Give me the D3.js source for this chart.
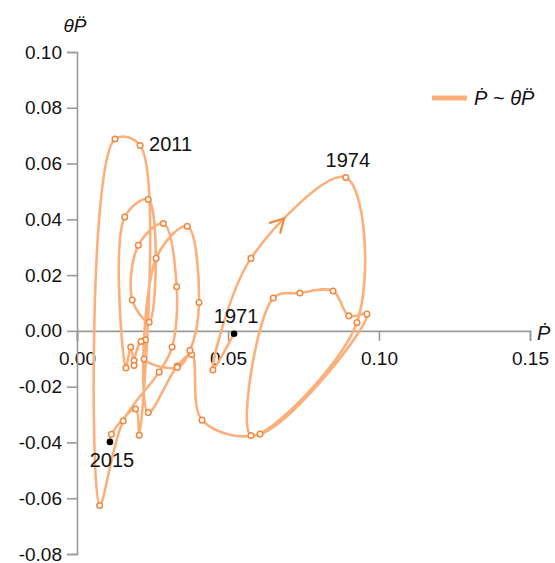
<!DOCTYPE html>
<html>
<head>
<meta charset="utf-8">
<script src="https://cdnjs.cloudflare.com/ajax/libs/d3/7.8.5/d3.min.js"></script>
<style>
  body { margin: 0; background: #fff; }
  svg text { font-family: "Liberation Sans", Arial, sans-serif; fill: #111; }
  .axis path, .axis line { stroke: #9a9a9a; stroke-width: 1.6; }
  .axis text { font-size: 19px; }
</style>
</head>
<body>
<div id="chart"></div>
<script>
// one point per year, Pdot on x, theta*Pddot on y
const years = [1971, 1972, 1973, 1974, 1975, 1976, 1977, 1978, 1979, 1980,
  1981, 1982, 1983, 1984, 1985, 1986, 1987, 1988, 1989, 1990,
  1991, 1992, 1993, 1994, 1995, 1996, 1997, 1998, 1999, 2000,
  2001, 2002, 2003, 2004, 2005, 2006, 2007, 2008, 2009, 2010,
  2011, 2012, 2013, 2014, 2015];

const pDot = [0.052, 0.045, 0.0576, 0.089, 0.0927, 0.0576, 0.065, 0.0738, 0.0848, 0.090,
  0.096, 0.0606, 0.0414, 0.0380, 0.0332, 0.0236, 0.0262, 0.0365, 0.0404, 0.0374,
  0.0332, 0.0222, 0.0227, 0.0212, 0.0189, 0.0189, 0.0178, 0.0162, 0.0158, 0.0236,
  0.0239, 0.0183, 0.0203, 0.0286, 0.0330, 0.0315, 0.0272, 0.0153, 0.0075, 0.0126,
  0.0209, 0.0206, 0.0194, 0.0114, 0.0109];

const thetaPDDot = [-0.001, -0.014, 0.026, 0.055, 0.003, -0.0375, 0.0118, 0.0136, 0.0143, 0.0054,
  0.006, -0.037, -0.032, -0.0085, -0.0126, -0.0293, 0.026, 0.0375, 0.0102, -0.0070,
  -0.0131, -0.0101, -0.0032, -0.0038, -0.0106, -0.0124, -0.0058, -0.0133, 0.0408, 0.0471,
  0.0031, 0.0111, 0.0307, 0.0385, 0.0158, -0.0058, -0.0148, -0.0323, -0.0626, 0.0688,
  0.0665, -0.0374, -0.028, -0.0371, -0.0398];

const xTicks = [0, 0.05, 0.10, 0.15];
const yTicks = [-0.08, -0.06, -0.04, -0.02, 0, 0.02, 0.04, 0.06, 0.08, 0.10];
const labelledYears = [1971, 1974, 2011, 2015];
const arrowAt = 0.0685;   // Pdot where the direction arrow sits

const width = 555, height = 563;
const lineColor = '#fbb07b', markColor = '#f0883f';

const rows = years.map((yr, i) => ({ year: yr, p: pDot[i], t: thetaPDDot[i] }));

const x = d3.scaleLinear().domain([0, 0.15]).range([77, 530]);
const y = d3.scaleLinear().domain([-0.08, 0.10]).range([554, 52]);

const svg = d3.select('#chart').append('svg')
  .attr('width', width)
  .attr('height', height);

// axes cross at the origin
svg.append('g')
  .attr('class', 'axis x')
  .attr('transform', 'translate(0,' + y(0) + ')')
  .call(d3.axisBottom(x).tickValues(xTicks).tickSize(10).tickPadding(11)
    .tickFormat(d => d.toFixed(2)));

svg.append('g')
  .attr('class', 'axis y')
  .attr('transform', 'translate(' + x(0) + ',0)')
  .call(d3.axisLeft(y).tickValues(yTicks).tickSize(10).tickPadding(5)
    .tickFormat(d => d.toFixed(2)));

// axis titles
svg.append('text')
  .attr('x', 75).attr('y', 32)
  .attr('text-anchor', 'middle')
  .style('font-size', '19px').style('font-style', 'italic')
  .text('\u03B8P\u0308');

svg.append('text')
  .attr('x', 537).attr('y', 340)
  .style('font-size', '20px').style('font-style', 'italic')
  .text('\u1E56');

// the trajectory
const curve = d3.line()
  .x(d => x(d.p))
  .y(d => y(d.t))
  .curve(d3.curveCatmullRom.alpha(0.5));

svg.append('path')
  .attr('d', curve(rows))
  .attr('fill', 'none')
  .attr('stroke', lineColor)
  .attr('stroke-width', 2.6)
  .attr('stroke-linejoin', 'round');

// direction arrow on the 1973-1974 stretch
const guide = svg.append('path')
  .attr('d', curve(rows.slice(1, 5)))
  .attr('fill', 'none').attr('stroke', 'none');
const gNode = guide.node();
const total = gNode.getTotalLength();
let at = 0;
while (at < total && gNode.getPointAtLength(at).x < x(arrowAt)) at += 0.5;
const tip = gNode.getPointAtLength(at);
const back = gNode.getPointAtLength(Math.max(0, at - 2));
const ang = Math.atan2(tip.y - back.y, tip.x - back.x);
const arm = 15, spread = 0.5;
const a1 = [tip.x - arm * Math.cos(ang - spread), tip.y - arm * Math.sin(ang - spread)];
const a2 = [tip.x - arm * Math.cos(ang + spread), tip.y - arm * Math.sin(ang + spread)];
svg.append('path')
  .attr('d', 'M' + a1 + 'L' + [tip.x, tip.y] + 'L' + a2)
  .attr('fill', 'none')
  .attr('stroke', markColor)
  .attr('stroke-width', 2.2)
  .attr('stroke-linecap', 'round');
guide.remove();

// yearly markers, first and last year in black
svg.selectAll('circle.yr')
  .data(rows.slice(1, -1))
  .enter().append('circle')
  .attr('class', 'yr')
  .attr('cx', d => x(d.p))
  .attr('cy', d => y(d.t))
  .attr('r', 2.8)
  .attr('fill', '#fff')
  .attr('stroke', markColor)
  .attr('stroke-width', 1.5);

svg.selectAll('circle.end')
  .data([rows[0], rows[rows.length - 1]])
  .enter().append('circle')
  .attr('class', 'end')
  .attr('cx', d => x(d.p))
  .attr('cy', d => y(d.t))
  .attr('r', 3.3)
  .attr('fill', '#000');

// year labels
svg.selectAll('text.yr')
  .data(rows.filter(d => labelledYears.includes(d.year)))
  .enter().append('text')
  .attr('class', 'yr')
  .style('font-size', '20px')
  .attr('x', d => x(d.p) + (d.year === 2011 ? 9 : 2))
  .attr('y', d => y(d.t) + (d.year === 2011 ? 6 : d.year === 2015 ? 25 : -11))
  .attr('text-anchor', d => d.year === 2011 ? 'start' : 'middle')
  .text(d => d.year);

// legend
svg.append('line')
  .attr('x1', 432).attr('x2', 467)
  .attr('y1', 98).attr('y2', 98)
  .attr('stroke', lineColor)
  .attr('stroke-width', 5);

const leg = svg.append('text')
  .attr('x', 474).attr('y', 105)
  .style('font-size', '20px');
leg.append('tspan').style('font-style', 'italic').text('\u1E56');
leg.append('tspan').text(' ~ ');
leg.append('tspan').style('font-style', 'italic').text('\u03B8P\u0308');
</script>
</body>
</html>
